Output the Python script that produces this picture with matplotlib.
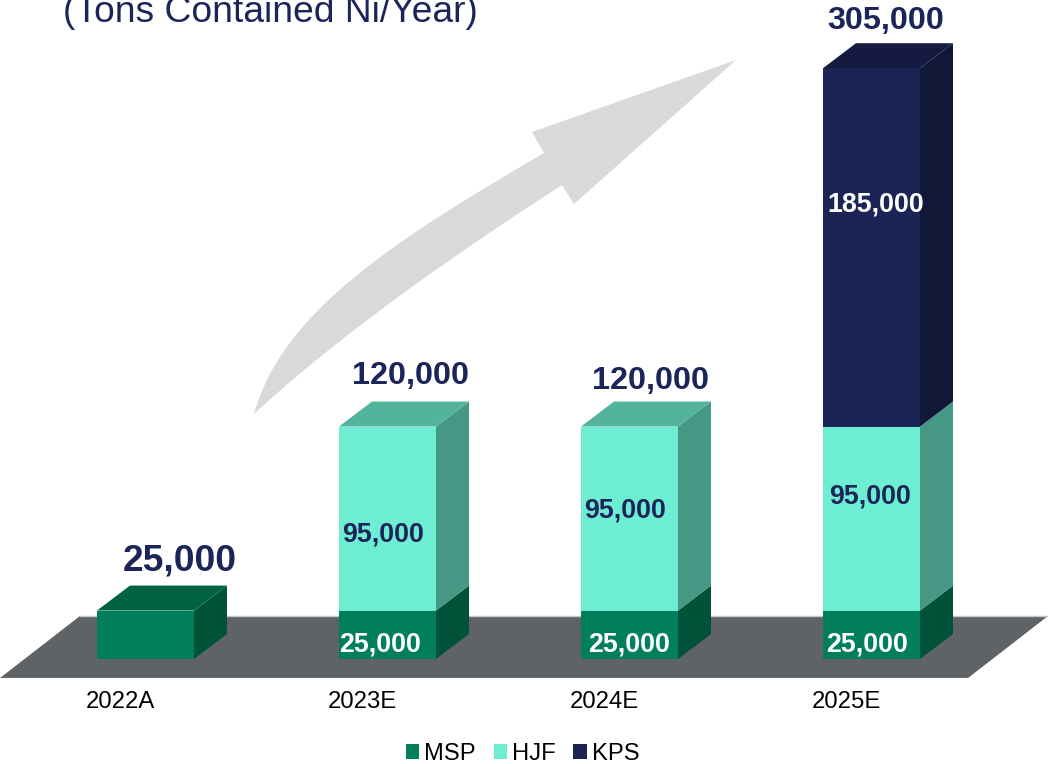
import matplotlib.pyplot as plt
from matplotlib.patches import Patch, PathPatch, Polygon
from matplotlib.path import Path
from matplotlib.transforms import Affine2D
import numpy as np

plt.rcParams['font.family'] = ['Liberation Sans', 'DejaVu Sans']

years = ['2022A', '2023E', '2024E', '2025E']
msp = [25000, 25000, 25000, 25000]
hjf = [0, 95000, 95000, 95000]
kps = [0, 0, 0, 185000]
totals = [25000, 120000, 120000, 305000]
series_names = ['MSP', 'HJF', 'KPS']

front_colors = ['#007f5a', '#6dedd2', '#1a2455']
top_colors = ['#006340', '#52b49d', '#151b40']
side_colors = ['#005238', '#459884', '#111736']
navy = '#1c2559'

W, H = 1048, 764
fig = plt.figure(figsize=(W / 100, H / 100), dpi=100)

# pixel coordinates from the top left corner, for the decoration only
px = Affine2D().scale(1 / W, -1 / H).translate(0, 1) + fig.transFigure

# axes stops at the front of the floor, tick labels hang below it
ax = fig.add_axes([0, 1 - 678 / H, 1, 678 / H])
ax.set_xlim(-145.5 / 242, (W - 145.5) / 242)
ax.set_ylim(-19 / 1.937 * 1000, 659 / 1.937 * 1000)
for s in ax.spines.values():
    s.set_visible(False)
ax.set_yticks([])

x = np.arange(len(years))
bar_w = 97 / 242
depth_x = 33 / 242
depth_y = 25 / 1.937 * 1000

# floor
ax.add_patch(Polygon([(0, 678), (80, 616), (W, 616), (968, 678)], closed=True,
                     facecolor='#5f6366', edgecolor='none', transform=px, zorder=1))
ax.plot([0, 968], [678, 678], color='#9a9ea2', lw=1, transform=px, zorder=1)
ax.plot([80, W], [616, 616], color='#c4c6c8', lw=1, transform=px, zorder=1)

# growth arrow
verts = [(254, 414), (282, 312), (395, 240), (544, 153), (532, 132), (736, 60),
         (574, 204), (562, 185), (480, 238), (350, 325), (254, 414), (254, 414)]
codes = [Path.MOVETO, Path.CURVE4, Path.CURVE4, Path.CURVE4, Path.LINETO, Path.LINETO,
         Path.LINETO, Path.LINETO, Path.CURVE4, Path.CURVE4, Path.CURVE4, Path.CLOSEPOLY]
ax.add_patch(PathPatch(Path(verts, codes), facecolor='#d9d9d9', edgecolor='none',
                       transform=px, zorder=2))

# stacked bars, with the 3D faces worked out from the values
bottom = np.zeros(len(years))
for vals, front, top, side in zip([msp, hjf, kps], front_colors, top_colors, side_colors):
    vals = np.array(vals)
    ax.bar(x, vals, bar_w, bottom=bottom, color=front, zorder=3)
    for i in range(len(years)):
        if vals[i] == 0:
            continue
        r = x[i] + bar_w / 2
        y0, y1 = bottom[i], bottom[i] + vals[i]
        ax.add_patch(Polygon([(r, y0), (r + depth_x, y0 + depth_y),
                              (r + depth_x, y1 + depth_y), (r, y1)],
                             closed=True, facecolor=side, edgecolor='none', zorder=3))
        if y1 == totals[i]:
            ax.add_patch(Polygon([(r - bar_w, y1), (r, y1), (r + depth_x, y1 + depth_y),
                                  (r - bar_w + depth_x, y1 + depth_y)],
                                 closed=True, facecolor=top, edgecolor='none', zorder=3))
    bottom = bottom + vals

ax.set_xticks(x - 25 / 242)
ax.set_xticklabels(years, fontsize=17.2, color='black')
ax.tick_params(axis='x', length=0, pad=9)

# value labels, placed by hand like the original slide
def label(px_x, px_y, text, size, color, weight='bold'):
    ax.text(px_x, px_y, text, transform=px, fontsize=size, color=color, fontweight=weight,
            ha='center', va='center', zorder=5)

for i, xp in zip([1, 2, 3], [380, 629, 867]):
    label(xp, 645, f'{msp[i]:,}', 19.3, 'white')
for i, xp, yp in zip([1, 2, 3], [383, 625, 870], [534, 510, 497]):
    label(xp, yp, f'{hjf[i]:,}', 19.3, navy)
label(876, 205, f'{kps[3]:,}', 19.3, 'white')
label(180, 561, f'{totals[0]:,}', 26.8, navy)
label(410, 376, f'{totals[1]:,}', 23.3, navy)
label(650, 381, f'{totals[2]:,}', 23.3, navy)
label(886, 21, f'{totals[3]:,}', 23.3, navy)

fig.text(63, 12, '(Tons Contained Ni/Year)', transform=px, fontsize=26.8, color=navy,
         ha='left', va='center')

handles = [Patch(facecolor=c, edgecolor='none') for c in front_colors]
fig.legend(handles, series_names, loc='center', bbox_to_anchor=(522.5 / W, 1 - 754 / H),
           ncol=3, frameon=False, fontsize=17.1, handlelength=0.55, handleheight=0.55,
           handletextpad=0.21, columnspacing=0.76, borderpad=0, borderaxespad=0)

fig.savefig('out.png', dpi=100)
